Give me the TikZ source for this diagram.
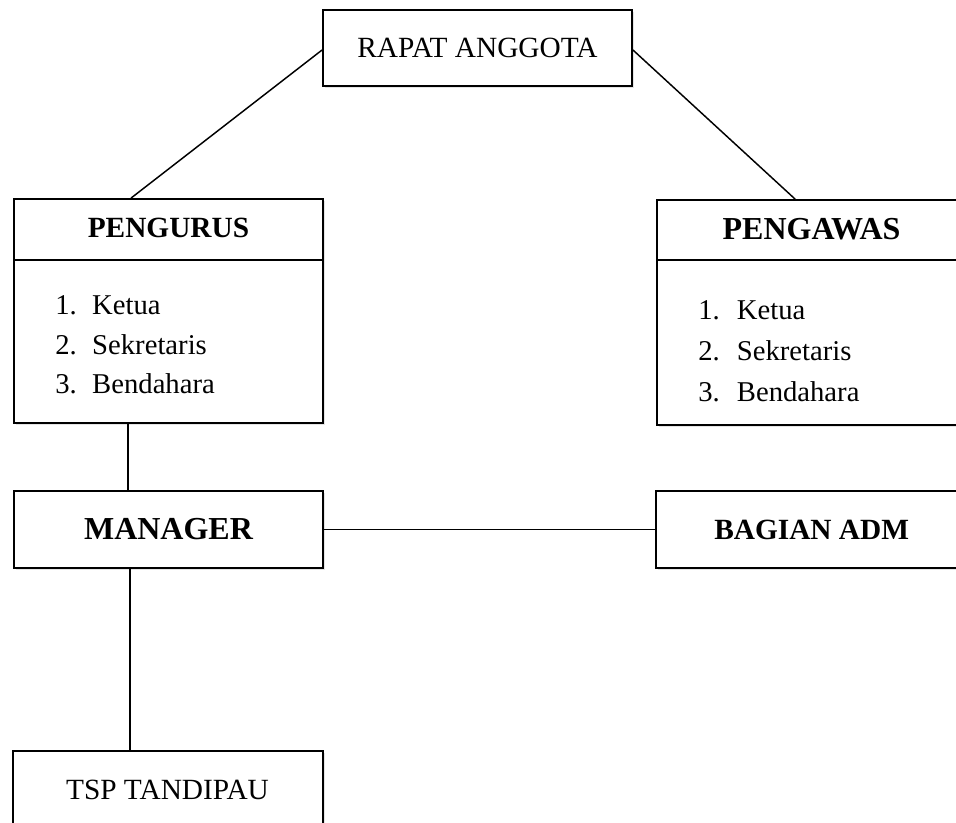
\documentclass[tikz,border=0pt]{standalone}
\usepackage{fontspec}
\setmainfont{Liberation Serif}
\usetikzlibrary{shadows}
\begin{document}
\begin{tikzpicture}[x=0.75pt,y=-0.75pt,
  box/.style={draw=black, line width=1.4pt, fill=white, inner sep=0pt,
    drop shadow={opacity=0.35, fill=gray!60, shadow xshift=1.5pt, shadow yshift=-1.8pt}},
  conn/.style={draw=black, line width=1.1pt},
  ttl/.style={inner sep=0pt, anchor=base},
  item/.style={inner sep=0pt, anchor=base west, font=\fontsize{21.5}{26}\selectfont}
]
\clip (0,0) rectangle (956,823);
\fill[white] (0,0) rectangle (956,823);

% boxes
\node[box, minimum width=231.75pt, minimum height=57pt,
  font=\fontsize{22}{26}\selectfont] (rapat) at (477.5,48) {RAPAT ANGGOTA};
\node[box, minimum width=231.75pt, minimum height=168pt] (pengurus) at (168.5,311) {};
\node[box, minimum width=234.75pt, minimum height=168.75pt] (pengawas) at (813.5,312.5) {};
\node[box, minimum width=231.75pt, minimum height=57.75pt,
  font=\bfseries\fontsize{24}{28}\selectfont] (manager) at (168.5,529.5) {MANAGER};
\node[box, minimum width=235.5pt, minimum height=57.75pt,
  font=\bfseries\fontsize{22}{26}\selectfont] (bagian) at (813,529.5) {\hspace*{-2pt}BAGIAN ADM};
\node[box, minimum width=232.5pt, minimum height=81.75pt] (tsp) at (168,805.5) {};

% dividers
\draw[line width=1.4pt] ([yshift=-46.5pt]pengurus.north west) -- ([yshift=-46.5pt]pengurus.north east);
\draw[line width=1.4pt] ([yshift=-45.75pt]pengawas.north west) -- ([yshift=-45.75pt]pengawas.north east);

% titles
\node[ttl, font=\bfseries\fontsize{22}{26}\selectfont] (pengurustitle) at (168.5,238) {PENGURUS};
\node[ttl, font=\bfseries\fontsize{24}{28}\selectfont] (pengawastitle) at (811.5,240) {PENGAWAS};
\node[ttl, font=\fontsize{22}{26}\selectfont] (tsptext) at (167.5,799) {TSP TANDIPAU};

% lists
\node[item] (pk1) at (55,315) {\makebox[27.75pt][l]{1.}Ketua};
\node[item] (pk2) at (55,354) {\makebox[27.75pt][l]{2.}Sekretaris};
\node[item] (pk3) at (55,393) {\makebox[27.75pt][l]{3.}Bendahara};
\node[item] (wk1) at (698,320) {\makebox[29pt][l]{1.}Ketua};
\node[item] (wk2) at (698,360) {\makebox[29pt][l]{2.}Sekretaris};
\node[item] (wk3) at (698,401) {\makebox[29pt][l]{3.}Bendahara};

% connectors
\draw[conn] ([yshift=-1.5pt]rapat.west) -- ([xshift=88.5pt]pengurus.north west);
\draw[conn] ([yshift=-1.5pt]rapat.east) -- ([xshift=104.25pt]pengawas.north west);
\draw[conn] ([xshift=86.25pt]pengurus.south west) -- ([xshift=86.25pt]manager.north west);
\draw[conn] (manager.east) -- (bagian.west);
\draw[conn] ([xshift=87.75pt]manager.south west) -- ([xshift=88.5pt]tsp.north west);
\end{tikzpicture}
\end{document}
